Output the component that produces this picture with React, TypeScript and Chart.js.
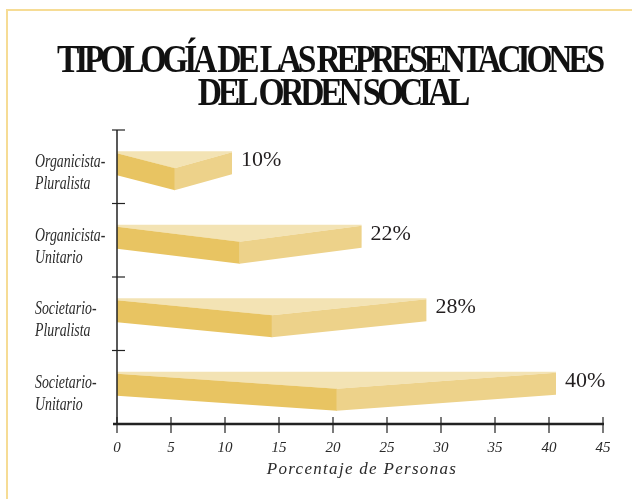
import React, { useEffect, useRef } from "react";
import { Chart, registerables } from "chart.js";

Chart.register(...registerables);

const categories = ["Organicista-Pluralista", "Organicista-Unitario", "Societario-Pluralista", "Societario-Unitario"];
const categoryLines = [
  ["Organicista-", "Pluralista"],
  ["Organicista-", "Unitario"],
  ["Societario-", "Pluralista"],
  ["Societario-", "Unitario"],
];
const values = [10, 22, 28, 40];
const valueLabels = ["10%", "22%", "28%", "40%"];
const xTicks = [0, 5, 10, 15, 20, 25, 30, 35, 40, 45];
const titleLines = ["TIPOLOGÍA DE LAS REPRESENTACIONES", "DEL ORDEN SOCIAL"];
const xTitle = "Porcentaje de Personas";

const SERIF = '"Liberation Serif", "Times New Roman", serif';

const decorPlugin = {
  id: "decor",
  beforeDraw(chart: any) {
    const ctx = chart.ctx as CanvasRenderingContext2D;
    ctx.save();
    ctx.fillStyle = "#ffffff";
    ctx.fillRect(0, 0, chart.width, chart.height);
    // frame
    ctx.strokeStyle = "#F6DC95";
    ctx.lineWidth = 2;
    ctx.beginPath();
    ctx.moveTo(7, chart.height + 5);
    ctx.lineTo(7, 10);
    ctx.lineTo(chart.width + 5, 10);
    ctx.stroke();
    // title
    ctx.font = `bold 40px ${SERIF}`;
    (ctx as any).letterSpacing = "-5px";
    ctx.fillStyle = "#111111";
    ctx.textAlign = "left";
    ctx.textBaseline = "alphabetic";
    const w0 = ctx.measureText(titleLines[0]).width;
    const s = 544 / w0;
    const centers = [329, 332];
    const baselines = [72, 105];
    titleLines.forEach((t, i) => {
      const w = ctx.measureText(t).width * s;
      ctx.save();
      ctx.translate(centers[i] - w / 2, baselines[i]);
      ctx.scale(s, 1);
      ctx.fillText(t, 0, 0);
      ctx.restore();
    });
    ctx.restore();
  },
  afterDatasetsDraw(chart: any) {
    const ctx = chart.ctx as CanvasRenderingContext2D;
    const meta = chart.getDatasetMeta(0);
    ctx.save();
    meta.data.forEach((el: any, i: number) => {
      const p = el.getProps(["x", "y", "base"], true);
      const base = p.base;
      const x = p.x + 7; // 3D extension of the slab
      const top = p.y - 15.5;
      const thick = 22;
      const depth = 17;
      const mid = (base + x) / 2;
      // top face
      ctx.fillStyle = "#F3E3B4";
      ctx.beginPath();
      ctx.moveTo(base, top);
      ctx.lineTo(x, top);
      ctx.lineTo(x, top + 1);
      ctx.lineTo(mid, top + depth);
      ctx.lineTo(base, top + 2);
      ctx.closePath();
      ctx.fill();
      // left face
      ctx.fillStyle = "#E8C462";
      ctx.beginPath();
      ctx.moveTo(base, top + 2);
      ctx.lineTo(mid + 0.5, top + depth);
      ctx.lineTo(mid + 0.5, top + depth + thick);
      ctx.lineTo(base, top + 2 + thick);
      ctx.closePath();
      ctx.fill();
      // right face
      ctx.fillStyle = "#EDD28A";
      ctx.beginPath();
      ctx.moveTo(mid, top + depth);
      ctx.lineTo(x, top + 1);
      ctx.lineTo(x, top + 1 + thick);
      ctx.lineTo(mid, top + depth + thick);
      ctx.closePath();
      ctx.fill();
      // value label
      ctx.fillStyle = "#231F20";
      ctx.font = `22px ${SERIF}`;
      ctx.textAlign = "left";
      ctx.textBaseline = "middle";
      ctx.fillText(valueLabels[i], x + 9, top + 9);
    });
    ctx.restore();
  },
  afterDraw(chart: any) {
    const ctx = chart.ctx as CanvasRenderingContext2D;
    const xs = chart.scales.x;
    const ys = chart.scales.y;
    const area = chart.chartArea;
    ctx.save();
    ctx.strokeStyle = "#222222";
    // y axis
    ctx.lineWidth = 1.5;
    ctx.beginPath();
    ctx.moveTo(xs.getPixelForValue(0), area.top);
    ctx.lineTo(xs.getPixelForValue(0), area.bottom);
    ctx.stroke();
    const n = categories.length;
    const bounds: number[] = [area.top];
    for (let i = 0; i < n - 1; i++) {
      bounds.push((ys.getPixelForValue(i) + ys.getPixelForValue(i + 1)) / 2);
    }
    ctx.lineWidth = 1.2;
    bounds.forEach((b) => {
      ctx.beginPath();
      ctx.moveTo(xs.getPixelForValue(0) - 5, b);
      ctx.lineTo(xs.getPixelForValue(0) + 8, b);
      ctx.stroke();
    });
    // x axis
    ctx.lineWidth = 2.5;
    ctx.beginPath();
    ctx.moveTo(xs.getPixelForValue(0) - 4, area.bottom);
    ctx.lineTo(xs.getPixelForValue(45) + 1, area.bottom);
    ctx.stroke();
    ctx.lineWidth = 1.2;
    ctx.fillStyle = "#2a2a2a";
    ctx.font = `italic 15px ${SERIF}`;
    ctx.textAlign = "center";
    ctx.textBaseline = "middle";
    xTicks.forEach((t) => {
      const px = xs.getPixelForValue(t);
      ctx.beginPath();
      ctx.moveTo(px, area.bottom - 7);
      ctx.lineTo(px, area.bottom + 9);
      ctx.stroke();
      ctx.fillText(String(t), px, area.bottom + 24);
    });
    // x title
    ctx.font = `italic 17px ${SERIF}`;
    (ctx as any).letterSpacing = "1.3px";
    ctx.fillText(xTitle, 362, area.bottom + 46);
    (ctx as any).letterSpacing = "0px";
    // y labels
    ctx.font = `italic 18px ${SERIF}`;
    ctx.textAlign = "left";
    ctx.textBaseline = "middle";
    categoryLines.forEach((lines, i) => {
      const cy = ys.getPixelForValue(i);
      lines.forEach((ln, j) => {
        ctx.save();
        ctx.translate(35, cy - 4 + j * 22);
        ctx.scale(0.77, 1);
        ctx.fillText(ln, 0, 0);
        ctx.restore();
      });
    });
    ctx.restore();
  },
};

export default function App() {
  const ref = useRef<HTMLCanvasElement | null>(null);
  useEffect(() => {
    if (!ref.current) return;
    const chart = new Chart(ref.current, {
      type: "bar",
      data: {
        labels: categories,
        datasets: [
          {
            data: values,
            backgroundColor: "rgba(0,0,0,0)",
            borderWidth: 0,
          },
        ],
      },
      options: {
        indexAxis: "y",
        responsive: false,
        animation: false,
        devicePixelRatio: 1,
        layout: { padding: { left: 117, right: 29, top: 130, bottom: 75 } },
        plugins: { legend: { display: false }, tooltip: { enabled: false }, title: { display: false } },
        scales: {
          x: { type: "linear", min: 0, max: 45, display: false },
          y: { type: "category", display: false, offset: true },
        },
      },
      plugins: [decorPlugin],
    } as any);
    return () => chart.destroy();
  }, []);
  return (
    <div style={{ position: "fixed", left: 0, top: 0, width: 632, height: 499, background: "#fff" }}>
      <canvas ref={ref} width={632} height={499} style={{ display: "block", width: 632, height: 499 }} />
    </div>
  );
}
